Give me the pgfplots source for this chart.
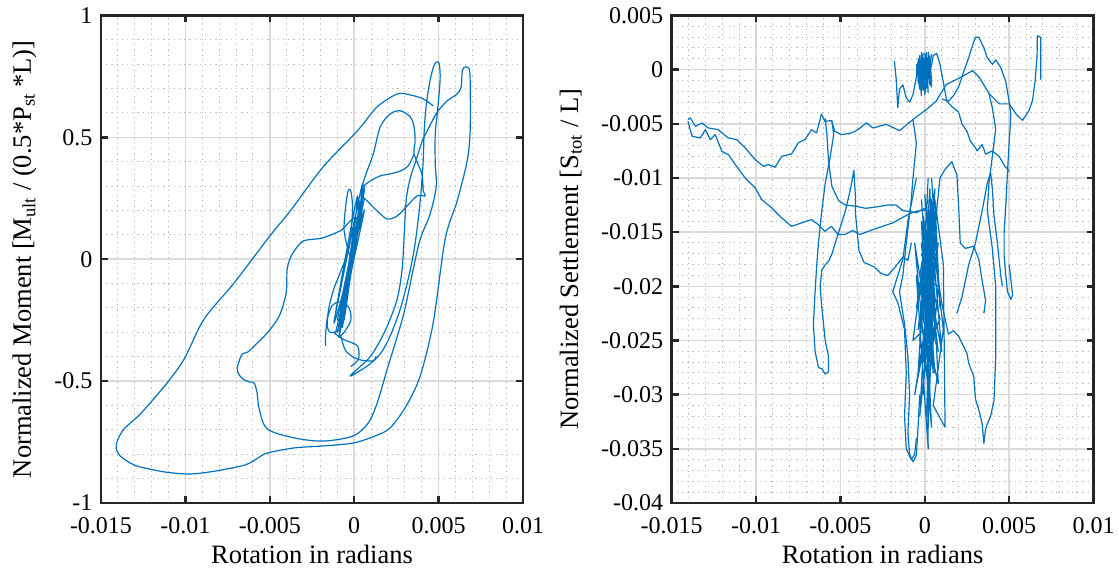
\documentclass[border=0pt]{standalone}
\usepackage{pgfplots}
\pgfplotsset{compat=1.18}
\usepackage{fontspec}
\setmainfont{Liberation Serif}
\definecolor{mblue}{RGB}{0,114,189}
\definecolor{gridmaj}{RGB}{218,218,218}
\definecolor{gridmin}{RGB}{185,185,185}
\definecolor{axcol}{RGB}{38,38,38}
\pgfplotsset{
  mystyle/.style={
    scale only axis, anchor=south west,
    width=422pt, height=487.5pt,
    axis line style={axcol, line width=2.4pt},
    every tick/.style={axcol, line width=2.4pt},
    major tick length=7pt, minor tick length=0pt,
    tick align=inside,
    grid=both,
    major grid style={gridmaj, line width=1.6pt},
    minor grid style={gridmin, line width=1pt, dash pattern=on 1.2pt off 4pt},
    minor tick num=4,
    tick label style={font=\fontsize{24}{28}\selectfont},
    label style={font=\fontsize{26.5}{31}\selectfont},
    xticklabel style={anchor=base, yshift=-30pt},
    yticklabel style={xshift=-5pt},
    xlabel style={at={(axis description cs:0.5,-0.1231)}, anchor=base},
    /pgf/number format/assume math mode=true,
    scaled ticks=false,
    xmin=-0.015, xmax=0.01,
    xtick={-0.015,-0.01,-0.005,0,0.005,0.01},
    xticklabels={-0.015,-0.01,-0.005,0,0.005,0.01},
    xlabel={Rotation in radians},
    no markers,
    every axis plot post/.append style={mblue, solid, line width=1.2pt, line join=round, mark=none},
  }
}
\begin{document}
\begin{tikzpicture}
\path[use as bounding box] (0,0) rectangle (1119pt,573pt);
\begin{axis}[mystyle, at={(101pt,70pt)},
  ymin=-1, ymax=1, ytick={-1,-0.5,0,0.5,1}, yticklabels={-1,-0.5,0,0.5,1},
  every axis plot/.append style={smooth, tension=0.5},
  ylabel style={at={(axis description cs:-0.1659,0.5)}, anchor=base},
  ylabel={Normalized Moment [M\textsubscript{ult} / (0.5*P\textsubscript{st} *L)]}]
\addplot coordinates {(0.00468,0.629)(0.00409,0.658)(0.00332,0.674)(0.00255,0.678)(0.00136,0.625)(0.00018,0.526)(-0.00184,0.379)(-0.00379,0.198)(-0.00498,0.097)(-0.00711,-0.097)(-0.00889,-0.245)(-0.01007,-0.409)(-0.01114,-0.512)(-0.01262,-0.631)(-0.01363,-0.696)(-0.01404,-0.746)(-0.01410,-0.778)(-0.01386,-0.807)(-0.01327,-0.836)(-0.01268,-0.852)(-0.01120,-0.873)(-0.00972,-0.881)(-0.00823,-0.869)(-0.00646,-0.844)(-0.00569,-0.815)(-0.00515,-0.795)(-0.00355,-0.774)(-0.00184,-0.766)(-0.00006,-0.754)(0.00124,-0.725)(0.00213,-0.692)(0.00308,-0.602)(0.00391,-0.479)(0.00468,-0.261)(0.00539,0.083)(0.00610,0.239)(0.00669,0.403)(0.00687,0.526)(0.00687,0.731)(0.00681,0.781)(0.00658,0.789)(0.00640,0.773)(0.00634,0.707)(0.00610,0.678)(0.00551,0.650)(0.00492,0.604)(0.00462,0.567)(0.00432,0.526)(0.00403,0.485)(0.00367,0.407)(0.00332,0.333)(0.00308,0.243)(0.00296,0.096)(0.00284,-0.040)(0.00255,-0.163)(0.00196,-0.274)(0.00136,-0.356)(0.00083,-0.409)(-0.00024,-0.479)
(0.00077,-0.438)(0.00154,-0.389)(0.00213,-0.315)(0.00273,-0.204)(0.00320,-0.081)(0.00355,0.038)(0.00379,0.161)(0.00397,0.285)(0.00409,0.407)(0.00415,0.531)(0.00427,0.633)(0.00450,0.736)(0.00474,0.797)(0.00492,0.810)(0.00504,0.801)(0.00509,0.736)(0.00492,0.596)(0.00480,0.514)(0.00480,0.391)(0.00486,0.297)(0.00450,0.186)(0.00391,0.083)(0.00350,-0.040)(0.00290,-0.233)(0.00196,-0.450)(0.00136,-0.590)(0.00083,-0.672)(-0.00006,-0.725)(-0.00184,-0.746)(-0.00355,-0.733)(-0.00515,-0.696)(-0.00563,-0.614)(-0.00575,-0.549)(-0.00592,-0.508)(-0.00616,-0.504)(-0.00652,-0.495)(-0.00681,-0.475)(-0.00693,-0.450)(-0.00681,-0.417)(-0.00664,-0.389)(-0.00628,-0.380)(-0.00592,-0.356)(-0.00515,-0.302)(-0.00444,-0.233)(-0.00403,-0.138)(-0.00397,-0.040)(-0.00373,0.014)(-0.00355,0.034)(-0.00302,0.075)(-0.00190,0.087)(-0.00083,0.116)(0.00018,0.153)
(-0.0009,-0.28)(0.0004,0.22)(-0.0007,-0.20)(0.0006,0.29)(-0.0010,-0.25)(0.0002,0.15)(-0.0005,-0.12)(0.0005,0.26)(-0.0008,-0.22)(0.0003,0.20)(-0.0006,-0.16)(0.0006,0.30)(-0.0004,-0.05)(0.0004,0.18)(-0.0009,-0.27)(0.0001,0.10)(-0.0006,-0.18)(0.0005,0.24)(-0.0003,-0.02)(0.0006,0.20)(-0.0008,-0.24)(0.0002,0.12)(-0.0005,-0.10)(0.0005,0.27)(-0.0007,-0.19)(0.0003,0.16)(-0.0010,-0.30)(0.0000,0.05)(-0.0004,-0.08)(0.0004,0.21)(-0.0006,-0.14)(0.0006,0.28)(-0.0002,0.02)(0.0003,0.14)(-0.0008,-0.21)(0.0002,0.08)(-0.0005,-0.15)(0.0005,0.23)(-0.0003,-0.04)(0.0004,0.17)
(0.00047,0.297)(0.00113,0.432)(0.00154,0.543)(0.00213,0.596)(0.00273,0.609)(0.00332,0.584)(0.00355,0.543)(0.00361,0.485)(0.00355,0.432)(0.00401,0.350)(0.00409,0.280)(0.00421,0.260)(0.00373,0.260)(0.00314,0.219)(0.00255,0.178)(0.00196,0.165)(0.00136,0.198)(0.00077,0.239)(0.00036,0.264)};
\addplot coordinates {(0.00355,0.432)(0.00320,0.383)(0.00273,0.362)(0.00213,0.350)(0.00154,0.342)(0.00095,0.321)(0.00047,0.297)};
\addplot coordinates {(-0.0011,-0.30)(0.0000,0.02)(-0.0012,-0.26)(0.0003,0.24)(-0.0007,-0.28)(0.0002,0.26)(-0.0011,-0.22)(0.0005,0.31)(-0.0006,-0.25)(0.0001,0.18)(-0.0009,-0.32)(0.0004,0.20)(-0.0004,-0.10)(0.0006,0.25)};
\addplot coordinates {(-0.0002,0.0)(-0.0006,0.12)(-0.0004,0.27)(-0.0002,0.28)(-0.0001,0.2)(-0.0003,0.05)(-0.0008,-0.05)(-0.0012,-0.12)(-0.0015,-0.2)(-0.0016,-0.27)(-0.0014,-0.3)(-0.0008,-0.28)(-0.0005,-0.15)(-0.0003,-0.02)};
\addplot coordinates {(-0.0017,-0.355)(-0.0017,-0.32)(-0.0016,-0.245)(-0.0013,-0.19)(-0.0008,-0.175)(-0.0003,-0.20)(-0.0002,-0.25)(-0.0006,-0.30)(-0.0009,-0.32)(-0.0008,-0.315)(-0.0005,-0.376)(0.0002,-0.410)(0.0011,-0.417)(0.0013,-0.397)};
\addplot coordinates {(-0.0012,-0.302)(-0.0006,-0.33)(0.0002,-0.356)(0.00025,-0.41)(-0.0002,-0.44)};
\end{axis}
\begin{axis}[mystyle, at={(671.6pt,70pt)},
  ymin=-0.04, ymax=0.005, ytick={-0.04,-0.035,-0.03,-0.025,-0.02,-0.015,-0.01,-0.005,0,0.005},
  yticklabels={-0.04,-0.035,-0.03,-0.025,-0.02,-0.015,-0.01,-0.005,0,0.005},
  ylabel style={at={(axis description cs:-0.2218,0.5)}, anchor=base},
  ylabel={Normalized Settlement [S\textsubscript{tot} / L]}]
\addplot coordinates {(-0.01403,-0.00461)(-0.01389,-0.00446)(-0.01359,-0.00523)(-0.01320,-0.00492)(-0.01283,-0.00538)(-0.01224,-0.00554)(-0.01165,-0.00630)(-0.01113,-0.00646)(-0.01064,-0.00722)(-0.01005,-0.00830)(-0.00956,-0.00892)(-0.00927,-0.00876)(-0.00887,-0.00901)(-0.00848,-0.00800)(-0.00789,-0.00778)(-0.00750,-0.00676)(-0.00710,-0.00646)(-0.00671,-0.00554)(-0.00641,-0.00584)(-0.00612,-0.00409)(-0.00592,-0.00477)(-0.00553,-0.00470)(-0.00533,-0.00569)(-0.00494,-0.00600)(-0.00434,-0.00584)(-0.00396,-0.00554)(-0.00346,-0.00492)(-0.00307,-0.00538)(-0.00228,-0.00505)(-0.00149,-0.00563)(-0.00071,-0.00461)(0.00008,-0.00369)(0.00067,-0.00292)(0.00126,-0.00138)(0.00205,-0.00077)(0.00283,-0.00009)(0.00323,-0.00071)(0.00382,-0.00224)(0.00441,-0.00316)(0.00500,-0.00316)(0.00540,-0.00409)(0.00579,-0.00468)(0.00618,-0.00375)(0.00638,-0.00286)(0.00654,-0.00101)(0.00665,0.00129)(0.00667,0.00314)(0.00687,0.00298)(0.00687,-0.00092)};
\addplot coordinates {(-0.01403,-0.00477)(-0.01379,-0.00615)(-0.01330,-0.00630)(-0.01300,-0.00554)(-0.01271,-0.00646)(-0.01241,-0.00600)(-0.01202,-0.00754)(-0.01163,-0.00784)(-0.01123,-0.00876)(-0.01064,-0.00999)(-0.01005,-0.01091)(-0.00966,-0.01199)(-0.00907,-0.01276)(-0.00848,-0.01368)(-0.00789,-0.01446)(-0.00730,-0.01414)(-0.00671,-0.01384)(-0.00632,-0.01430)(-0.00592,-0.01492)(-0.00553,-0.01446)(-0.00514,-0.01522)(-0.00474,-0.01522)(-0.00427,-0.01485)(-0.00385,-0.01522)(-0.00307,-0.01476)(-0.00189,-0.01414)(-0.00090,-0.01328)(-0.00031,-0.01301)(0.0000,-0.0130)(0.0002,-0.0120)};
\addplot coordinates {(-0.0055,-0.0047)(-0.0054,-0.0060)(-0.0056,-0.0080)(-0.0059,-0.0105)(-0.0061,-0.0130)(-0.0063,-0.0160)(-0.0064,-0.0180)(-0.0065,-0.0205)(-0.0066,-0.0235)(-0.0065,-0.0260)(-0.0063,-0.0275)(-0.0061,-0.0276)(-0.0059,-0.0281)(-0.0057,-0.0279)(-0.0057,-0.0265)(-0.0059,-0.0250)(-0.0060,-0.0235)(-0.0061,-0.0220)(-0.0062,-0.0200)(-0.0061,-0.0185)(-0.0059,-0.0180)(-0.0057,-0.0177)(-0.0055,-0.0170)(-0.0053,-0.0160)(-0.0050,-0.0145)(-0.0047,-0.0130)(-0.0044,-0.0110)(-0.0042,-0.0093)(-0.0041,-0.0120)(-0.0041,-0.0134)(-0.0039,-0.0167)(-0.0036,-0.0178)(-0.0030,-0.0182)(-0.0026,-0.0188)(-0.0022,-0.0190)(-0.0018,-0.0183)(-0.0013,-0.0173)(-0.0010,-0.0176)(-0.0008,-0.0160)};
\addplot coordinates {(-0.0059,-0.0045)(-0.0058,-0.0060)(-0.0057,-0.0085)(-0.0055,-0.0108)(-0.0051,-0.0121)(-0.0047,-0.0125)(-0.0041,-0.0126)(-0.0035,-0.0128)(-0.0030,-0.0127)(-0.0022,-0.0125)(-0.0017,-0.0125)(-0.0013,-0.0130)(-0.0005,-0.0132)(0.0000,-0.0128)};
\addplot coordinates {(-0.0018,0.0008)(-0.0017,-0.0008)(-0.0016,-0.0035)(-0.0015,-0.0018)(-0.0013,-0.0014)(-0.0011,-0.0026)(-0.0009,-0.0030)(-0.0007,-0.0023)(-0.0005,-0.0007)(-0.0004,0.0007)(-0.0005,-0.0002)(-0.0003,0.0012)(-0.0004,-0.0010)(-0.0001,0.0015)(-0.0003,-0.0015)(0.0000,0.0010)(-0.0002,-0.0020)(0.0001,0.0016)(-0.0001,-0.0012)(0.0002,0.0012)(0.0000,-0.0022)(0.0003,0.0008)(0.0001,-0.0015)(0.0004,0.0014)(0.0002,-0.0006)(0.0004,0.0004)(0.0005,0.0013)(0.0007,0.0015)(0.0009,0.0005)(0.0011,-0.0012)(0.0013,-0.0029)(0.0016,-0.0034)(0.0020,-0.0039)(0.0022,-0.0050)(0.0025,-0.0057)(0.0027,-0.0066)(0.0030,-0.0072)(0.0031,-0.0075)(0.0034,-0.0069)(0.0036,-0.0078)(0.0040,-0.0075)(0.0044,-0.0080)(0.0047,-0.0088)(0.0050,-0.0094)};
\addplot coordinates {(-0.0005,0.0005)(-0.0003,-0.0018)(-0.0004,0.0010)(-0.0002,-0.0024)(-0.0003,0.0013)(-0.0001,-0.0019)(-0.0002,0.0016)(0.0000,-0.0023)(-0.0001,0.0011)(0.0001,-0.0017)(0.0000,0.0015)(0.0002,-0.0021)(0.0001,0.0012)(0.0003,-0.0014)(0.0002,0.0016)(0.0004,-0.0010)(0.0003,0.0011)(0.0004,-0.0016)(-0.0001,0.0009)(-0.0004,-0.0012)(0.0001,0.0014)(-0.0002,-0.0008)(0.0002,0.0007)(0.0000,-0.0015)(0.0003,0.0013)};
\addplot coordinates {(0.0010,-0.0027)(0.0014,-0.0029)(0.0017,-0.0024)(0.0020,-0.0016)(0.0023,-0.0002)(0.0026,0.0011)(0.0028,0.0021)(0.0030,0.0030)(0.0032,0.0030)(0.0035,0.0020)(0.0037,0.0011)(0.0040,0.0005)(0.0042,0.0009)(0.0045,0.0002)(0.0048,-0.0011)(0.0050,-0.0030)(0.0051,-0.0042)(0.0050,-0.0066)(0.0049,-0.0094)(0.0048,-0.0125)(0.0047,-0.0150)(0.0047,-0.0172)(0.0048,-0.0190)(0.0049,-0.0205)(0.0051,-0.0212)(0.0052,-0.0208)(0.0051,-0.0194)(0.0050,-0.0180)};
\addplot coordinates {(0.0038,-0.0022)(0.0040,-0.0035)(0.0042,-0.0055)(0.0040,-0.0080)(0.0038,-0.0105)(0.0037,-0.0130)(0.0040,-0.0165)(0.0042,-0.0200)(0.0042,-0.0265)(0.0041,-0.0305)(0.0039,-0.0320)(0.0037,-0.0327)(0.0036,-0.0332)(0.0035,-0.0345)(0.0034,-0.0327)(0.0032,-0.0314)(0.0030,-0.0304)(0.0029,-0.0283)(0.0026,-0.0271)(0.0025,-0.0262)(0.0020,-0.0246)(0.0017,-0.0241)(0.0014,-0.0244)(0.0012,-0.0230)(0.0010,-0.0215)(0.0008,-0.0195)(0.0007,-0.0175)};
\addplot coordinates {(0.0019,-0.0225)(0.0022,-0.0210)(0.0026,-0.0180)(0.0030,-0.0160)(0.0034,-0.0130)(0.0037,-0.0105)(0.0039,-0.0095)(0.0040,-0.0110)(0.0041,-0.0135)(0.0043,-0.0160)(0.0045,-0.0190)(0.0046,-0.0200)};
\addplot coordinates {(0.0007,-0.0130)(0.0009,-0.0100)(0.0012,-0.0092)(0.0016,-0.0085)(0.0019,-0.0097)(0.0020,-0.0125)(0.0021,-0.0160)(0.0024,-0.0165)(0.0029,-0.0163)(0.0032,-0.0175)(0.0034,-0.0195)(0.0036,-0.0213)(0.0035,-0.0225)};
\addplot coordinates {(-0.0007,-0.0046)(-0.0005,-0.0068)(-0.0007,-0.0100)(-0.0008,-0.0120)(-0.0011,-0.0160)(-0.0013,-0.0190)(-0.0015,-0.0205)(-0.0012,-0.0235)(-0.0010,-0.0265)(-0.0009,-0.0300)(-0.0010,-0.0335)(-0.0009,-0.0355)(-0.0007,-0.0362)(-0.0005,-0.0356)(-0.0004,-0.0330)(-0.0003,-0.0300)};
\addplot coordinates {(-0.0005,-0.0100)(-0.0010,-0.0140)(-0.0013,-0.0175)(-0.0017,-0.0195)(-0.0019,-0.0205)(-0.0016,-0.0215)(-0.0012,-0.0240)(-0.0011,-0.0280)(-0.0012,-0.0320)(-0.0011,-0.0350)(-0.0008,-0.0360)(-0.0006,-0.0355)(-0.0005,-0.0340)};
\addplot coordinates {(0.0002,-0.0100)(-0.0003,-0.0250)(0.0005,-0.0120)(-0.0001,-0.0300)(0.0004,-0.0140)(-0.0005,-0.0220)(0.0006,-0.0110)(0.0000,-0.0280)(0.0003,-0.0160)(-0.0004,-0.0240)(0.0007,-0.0130)(0.0001,-0.0320)(0.0004,-0.0180)(-0.0002,-0.0210)(0.0006,-0.0150)(-0.0001,-0.0270)(0.0005,-0.0120)(0.0002,-0.0300)(0.0008,-0.0200)(-0.0003,-0.0190)(0.0004,-0.0125)(0.0001,-0.0260)(0.0009,-0.0230)(-0.0002,-0.0160)(0.0005,-0.0280)(0.0000,-0.0140)(0.0007,-0.0250)(-0.0004,-0.0200)(0.0006,-0.0170)(0.0002,-0.0330)(0.0003,-0.0200)(0.0010,-0.0260)(0.0004,-0.0150)(-0.0001,-0.0230)(0.0008,-0.0290)(0.0003,-0.0130)(0.0011,-0.0240)(0.0005,-0.0310)(0.0012,-0.0330)(0.0011,-0.0180)(0.0006,-0.0120)(0.0009,-0.0220)(0.0004,-0.0100)};
\addplot coordinates {(-0.0002,-0.0120)(0.0006,-0.0280)(-0.0006,-0.0160)(0.0004,-0.0330)(-0.0002,-0.0140)(0.0008,-0.0260)(-0.0005,-0.0190)(0.0002,-0.0350)(0.0001,-0.0150)(0.0006,-0.0230)(-0.0007,-0.0250)(0.0004,-0.0120)(-0.0003,-0.0320)(0.0007,-0.0170)(-0.0004,-0.0280)(0.0003,-0.0110)(0.0005,-0.0210)(-0.0006,-0.0300)(0.0008,-0.0160)(0.0001,-0.0240)};
\addplot coordinates {(0.0000,-0.0115)(0.0004,-0.0200)(-0.0001,-0.0135)(0.0005,-0.0240)(0.0000,-0.0150)(0.0003,-0.0190)(-0.0002,-0.0170)(0.0006,-0.0210)(0.0001,-0.0125)(0.0004,-0.0245)(-0.0001,-0.0160)(0.0005,-0.0180)(0.0000,-0.0230)(0.0003,-0.0140)(-0.0002,-0.0200)(0.0005,-0.0155)(0.0001,-0.0260)(0.0004,-0.0170)(-0.0001,-0.0215)(0.0006,-0.0130)};
\end{axis}
\end{tikzpicture}
\end{document}
